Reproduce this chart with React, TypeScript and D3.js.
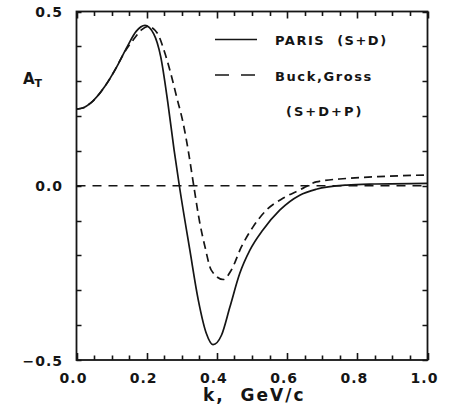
import React from "react";
import * as d3 from "d3";

// PARIS (S+D) curve
const parisK = [0, 0.02, 0.04, 0.08, 0.115, 0.145, 0.17, 0.195, 0.22, 0.24, 0.26, 0.278, 0.293, 0.323, 0.347, 0.37, 0.389, 0.413, 0.437, 0.465, 0.494, 0.531, 0.579, 0.636, 0.683, 0.77, 0.85, 1.0];
const parisA = [0.22, 0.224, 0.237, 0.284, 0.342, 0.4, 0.443, 0.46, 0.436, 0.37, 0.24, 0.103, 0, -0.185, -0.328, -0.424, -0.456, -0.429, -0.348, -0.252, -0.185, -0.127, -0.07, -0.027, -0.01, 0.002, 0.005, 0.007];

// Buck,Gross (S+D+P) curve
const buckK = [0, 0.02, 0.04, 0.08, 0.115, 0.135, 0.162, 0.185, 0.204, 0.23, 0.252, 0.271, 0.285, 0.304, 0.318, 0.334, 0.351, 0.366, 0.384, 0.418, 0.441, 0.47, 0.503, 0.541, 0.588, 0.636, 0.683, 0.77, 0.88, 1.0];
const buckA = [0.22, 0.224, 0.237, 0.284, 0.342, 0.38, 0.419, 0.447, 0.457, 0.438, 0.38, 0.313, 0.256, 0.179, 0.103, 0, -0.105, -0.175, -0.242, -0.269, -0.242, -0.175, -0.118, -0.07, -0.036, -0.012, 0.011, 0.021, 0.027, 0.031];

const xTickValues = [0, 0.2, 0.4, 0.6, 0.8, 1.0];
const xTickLabels = ["0.0", "0.2", "0.4", "0.6", "0.8", "1.0"];
const yTickValues = [-0.5, 0, 0.5];
const yTickLabels = ["\u22120.5", "0.0", "0.5"];

const W = 462;
const H = 408;
const ink = "#151515";
const font = "DejaVu Sans, sans-serif";

export default function App() {
  const x = d3.scaleLinear().domain([0, 1]).range([76.5, 427.5]);
  const y = d3.scaleLinear().domain([-0.5, 0.5]).range([360, 11.5]);

  const line = d3
    .line<[number, number]>()
    .x((d) => x(d[0]))
    .y((d) => y(d[1]))
    .curve(d3.curveMonotoneX);

  const parisPath = line(parisK.map((k, i) => [k, parisA[i]]));
  const buckPath = line(buckK.map((k, i) => [k, buckA[i]]));

  const [x0, x1] = x.range();
  const y0 = y(-0.5);
  const y1 = y(0.5);

  // inward ticks on all four sides, built as one path
  const isMajor = (v: number) => xTickValues.some((m) => Math.abs(m - v) < 1e-9);
  const tickPath = d3.path();
  x.ticks(20).forEach((v) => {
    const len = isMajor(v) ? 7 : 4.5;
    const px = Math.round(x(v)) + 0.5;
    tickPath.moveTo(px, y0);
    tickPath.lineTo(px, y0 - len);
    tickPath.moveTo(px, y1);
    tickPath.lineTo(px, y1 + len);
  });
  y.ticks(10).forEach((v) => {
    const py = Math.round(y(v)) + 0.5;
    tickPath.moveTo(x0, py);
    tickPath.lineTo(x0 + 5, py);
    tickPath.moveTo(x1, py);
    tickPath.lineTo(x1 - 5, py);
  });

  return (
    <svg
      width={W}
      height={H}
      style={{ position: "absolute", left: 0, top: 0, background: "#fff" }}
    >
      <rect x={0} y={0} width={W} height={H} fill="#fff" />

      {/* zero reference line */}
      <line x1={x0} x2={x1} y1={y(0)} y2={y(0)} stroke={ink} strokeWidth={1.3} strokeDasharray="9,7" />

      {/* curves */}
      <path d={parisPath || ""} fill="none" stroke={ink} strokeWidth={1.7} />
      <path d={buckPath || ""} fill="none" stroke={ink} strokeWidth={1.7} strokeDasharray="8,5" />

      {/* frame */}
      <rect x={x0} y={y1} width={x1 - x0} height={y0 - y1} fill="none" stroke={ink} strokeWidth={1.8} />
      <path d={tickPath.toString()} fill="none" stroke={ink} strokeWidth={1.6} />

      {/* tick labels */}
      {xTickValues.map((v, i) => (
        <text
          key={"xl" + v}
          x={x(v) - 3}
          y={383}
          textAnchor="middle"
          fontFamily={font}
          fontWeight="bold"
          fontSize={14}
          letterSpacing={1}
          fill={ink}
        >
          {xTickLabels[i]}
        </text>
      ))}
      {yTickValues.map((v, i) => (
        <text
          key={"yl" + v}
          x={63}
          y={y(v) + 5.5}
          textAnchor="end"
          fontFamily={font}
          fontWeight="bold"
          fontSize={14}
          letterSpacing={1}
          fill={ink}
        >
          {yTickLabels[i]}
        </text>
      ))}

      {/* axis titles */}
      <text x={23} y={83.5} fontFamily={font} fontWeight="bold" fontSize={15} fill={ink}>
        A<tspan fontSize={11} dy={3}>T</tspan>
      </text>
      <text
        x={203}
        y={401}
        fontFamily={font}
        fontWeight="bold"
        fontSize={17}
        letterSpacing={2}
        fill={ink}
        xmlSpace="preserve"
      >
        {"k,  GeV/c"}
      </text>

      {/* legend */}
      <line x1={215} x2={257} y1={39.5} y2={39.5} stroke={ink} strokeWidth={1.6} />
      <text
        x={275}
        y={45}
        fontFamily={font}
        fontWeight="bold"
        fontSize={13}
        letterSpacing={1.5}
        fill={ink}
        xmlSpace="preserve"
      >
        {"PARIS  (S+D)"}
      </text>
      <line x1={215} x2={257} y1={75} y2={75} stroke={ink} strokeWidth={1.6} strokeDasharray="14,12" />
      <text x={275} y={81} fontFamily={font} fontWeight="bold" fontSize={13} letterSpacing={1.6} fill={ink}>
        Buck,Gross
      </text>
      <text x={286} y={116} fontFamily={font} fontWeight="bold" fontSize={13} letterSpacing={2} fill={ink}>
        (S+D+P)
      </text>
    </svg>
  );
}
